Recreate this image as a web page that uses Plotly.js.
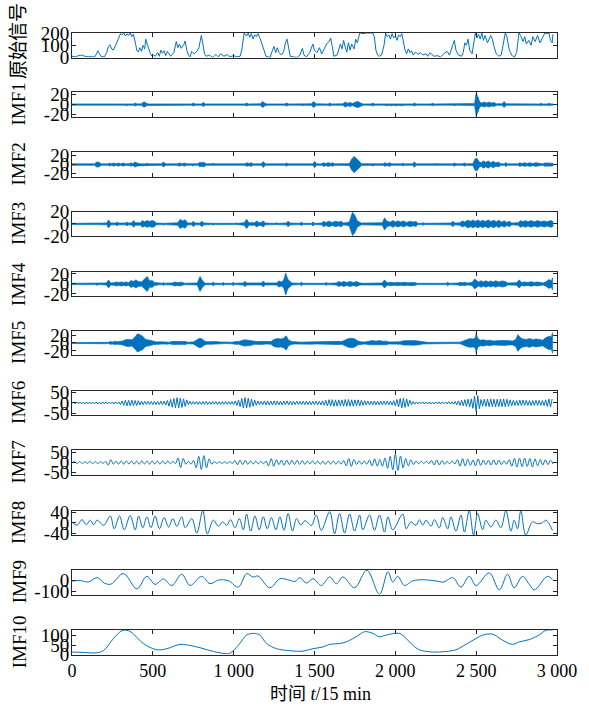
<!DOCTYPE html>
<html><head><meta charset="utf-8">
<script src="https://cdn.plot.ly/plotly-3.0.1.min.js"></script>
<style>html,body{margin:0;padding:0;background:#fff}#chart{width:589px;height:706px}</style>
</head><body><div id="chart"></div>
<script>
// ---------- DATA ----------
// original signal: [time, value]
const rawSignal = [[0,10],[20,5],[40,15],[60,20],[80,10],[100,5],[120,8],[140,3],[150,25],[160,55],[170,30],[180,8],[200,5],[215,40],[225,90],[235,105],[245,70],[255,60],[270,100],[285,150],[300,195],[310,185],[320,200],[330,175],[340,195],[350,180],[360,200],[370,170],[380,190],[395,100],[400,60],[410,45],[420,80],[430,50],[440,100],[450,70],[456,150],[465,110],[475,60],[485,30],[495,10],[505,20],[515,10],[530,40],[540,10],[550,60],[560,35],[570,55],[580,15],[590,50],[600,30],[610,10],[630,40],[645,130],[655,80],[665,110],[675,75],[690,100],[700,135],[710,60],[720,20],[730,5],[740,50],[755,30],[770,45],[785,80],[800,180],[810,90],[820,30],[830,10],[850,20],[870,0],[890,25],[905,5],[920,30],[940,10],[960,25],[975,5],[1000,15],[1020,5],[1040,10],[1050,60],[1065,200],[1080,175],[1090,200],[1100,165],[1110,195],[1120,150],[1130,185],[1140,170],[1150,195],[1165,150],[1180,90],[1190,40],[1200,10],[1215,5],[1225,0],[1240,60],[1250,90],[1260,40],[1270,80],[1280,40],[1295,20],[1310,50],[1320,120],[1330,150],[1340,60],[1350,10],[1370,5],[1390,0],[1410,20],[1425,75],[1435,20],[1450,5],[1470,40],[1480,70],[1490,110],[1500,60],[1515,40],[1530,80],[1545,30],[1560,70],[1575,110],[1590,130],[1600,160],[1610,90],[1620,10],[1640,20],[1650,60],[1660,110],[1670,70],[1680,140],[1690,85],[1700,45],[1710,120],[1720,60],[1730,110],[1745,70],[1755,150],[1765,120],[1780,200],[1800,195],[1820,200],[1840,200],[1860,200],[1870,170],[1880,60],[1890,20],[1900,10],[1915,20],[1930,100],[1940,200],[1950,170],[1960,185],[1970,150],[1980,195],[1990,160],[2000,175],[2010,140],[2020,185],[2030,170],[2040,195],[2050,110],[2060,60],[2070,30],[2080,70],[2090,40],[2100,55],[2110,20],[2125,45],[2140,25],[2155,40],[2170,20],[2190,30],[2200,10],[2215,40],[2225,25],[2240,10],[2260,15],[2280,5],[2300,30],[2320,50],[2335,20],[2350,80],[2365,140],[2375,60],[2390,20],[2410,10],[2420,40],[2430,120],[2440,100],[2450,150],[2460,60],[2475,30],[2485,100],[2495,200],[2505,160],[2515,190],[2525,150],[2535,200],[2545,140],[2555,180],[2570,120],[2590,180],[2600,150],[2610,90],[2625,30],[2640,10],[2655,20],[2670,150],[2680,200],[2690,170],[2705,60],[2720,20],[2735,0],[2750,40],[2765,200],[2775,180],[2790,130],[2800,170],[2810,110],[2825,140],[2840,100],[2850,170],[2865,130],[2880,180],[2895,120],[2910,160],[2925,200],[2940,195],[2950,200],[2960,140],[2970,120],[2975,190]];

// IMF1..IMF5: oscillation envelope (half-amplitude) [time, amplitude]
const imf1Env = [[0,1.2],[140,1.2],[155,2.5],[170,1.2],[255,1.2],[268,2.5],[280,1.2],[330,1.2],[340,2.5],[350,1.2],[380,1.2],[391,3],[402,1.2],[430,1.5],[440,4.5],[450,5],[462,2],[475,1.2],[545,1.2],[556,2.5],[567,1.2],[670,1.2],[679,2.5],[690,1.2],[700,1.2],[710,2.5],[720,1.2],[740,1.2],[751,3],[762,1.2],[800,1.2],[813,4],[826,1.2],[1005,1.2],[1018,2.5],[1030,1.2],[1070,1.2],[1080,3],[1090,1.2],[1165,1.5],[1180,6],[1195,2],[1210,1.2],[1315,1.2],[1327,3],[1340,1.2],[1415,1.2],[1425,2.5],[1435,1.2],[1480,1.5],[1495,6],[1510,1.5],[1585,1.2],[1594,3],[1605,1.2],[1675,1.5],[1690,5],[1705,2.5],[1720,4],[1735,2],[1755,5],[1770,6],[1785,3],[1800,1.2],[1850,1.2],[1861,3],[1872,1.2],[1935,1.2],[1945,2.5],[1960,1.5],[1975,2.5],[1990,1.5],[2005,2.5],[2020,1.5],[2040,2.5],[2055,1.2],[2108,1.2],[2118,3],[2128,1.2],[2220,1.2],[2231,2.5],[2242,1.2],[2355,1.2],[2365,2.5],[2375,1.2],[2417,1.2],[2427,2.5],[2437,1.2],[2490,2],[2500,22],[2510,16],[2522,5],[2535,3],[2550,5],[2565,3],[2580,5],[2595,3],[2610,4],[2625,1.5],[2660,1.5],[2673,6],[2686,1.5],[2805,1.2],[2817,2.5],[2828,1.2],[2890,1.2],[2900,2.5],[2910,1.2],[2940,1.2],[2951,2.5],[2962,1.2],[2975,1.5]];
const imf2Env = [[0,1.5],[140,1.5],[150,5],[165,5.5],[180,1.5],[225,1.5],[230,3.5],[240,1.5],[260,3.5],[270,1.5],[290,3.5],[300,1.5],[320,3.5],[330,1.5],[355,2],[365,4],[375,2],[390,5.5],[405,3],[420,1.5],[455,1.5],[463,3],[472,1.5],[555,1.5],[565,5.5],[580,1.5],[650,1.5],[665,3.5],[680,1.5],[695,3.5],[710,1.5],[740,1.5],[745,3],[755,1.5],[780,1.5],[790,5],[800,4],[815,5],[830,1.5],[865,1.5],[874,3],[883,1.5],[1010,1.5],[1018,3],[1027,1.5],[1070,1.5],[1082,4],[1095,2.5],[1108,4],[1120,1.5],[1170,1.5],[1183,6.5],[1196,1.5],[1256,1.5],[1265,3],[1274,1.5],[1318,1.5],[1327,3.5],[1336,1.5],[1490,1.5],[1501,7],[1512,1.5],[1545,1.5],[1555,4],[1570,2.5],[1585,4],[1600,2.5],[1612,4],[1625,1.5],[1715,2],[1730,12],[1745,18],[1760,14],[1775,8],[1790,2],[1850,1.5],[1861,3],[1872,1.5],[1925,1.5],[1935,4],[1950,2],[1965,4],[1978,1.5],[2038,1.5],[2046,3],[2055,1.5],[2108,1.5],[2118,6],[2128,1.5],[2245,1.5],[2252,2.5],[2260,1.5],[2355,1.5],[2365,3.5],[2375,1.5],[2418,1.5],[2427,3.5],[2436,1.5],[2480,2],[2492,12],[2505,14],[2518,6],[2530,4],[2545,8],[2560,5],[2575,8],[2590,4],[2605,7],[2620,4],[2640,5],[2652,1.5],[2675,1.5],[2684,4.5],[2693,1.5],[2760,1.5],[2768,4],[2785,2.5],[2800,4],[2815,2.5],[2830,4],[2850,2.5],[2870,4],[2890,3],[2910,1.5],[2925,3.5],[2945,3],[2960,3.5],[2975,3]];
const imf3Env = [[0,1],[145,1],[155,2],[165,1],[215,1.5],[226,6.5],[240,1.5],[270,1.5],[278,3],[288,1.5],[330,1.5],[340,3],[350,1.5],[372,2],[381,5.5],[392,2],[425,2],[435,5.5],[450,3.5],[465,5.5],[480,4],[495,5.5],[510,4.5],[520,1.5],[560,1],[566,2],[572,1],[655,2],[669,7.5],[685,5],[700,7],[715,1.5],[740,1.5],[751,4.5],[762,1.5],[792,1.5],[803,4.5],[814,1.5],[868,1],[874,2],[880,1],[1012,1],[1018,2],[1024,1],[1065,2],[1080,7.5],[1095,2],[1130,2],[1142,5],[1155,2.5],[1170,2.5],[1183,5],[1196,1.5],[1258,1],[1265,2],[1272,1],[1325,1.5],[1337,4.5],[1350,1.5],[1410,1],[1419,3],[1428,1],[1482,1],[1491,3.5],[1500,1],[1545,1.5],[1555,4.5],[1570,2.5],[1590,4.5],[1610,2.5],[1630,4.5],[1650,3],[1665,4.5],[1680,1.5],[1715,3],[1735,19],[1750,14],[1765,5],[1779,3],[1790,1.5],[1920,2],[1933,10],[1950,4],[1970,3],[1985,5.5],[2000,3],[2015,5],[2035,3],[2050,5],[2070,2.5],[2090,4.5],[2110,3],[2128,4],[2140,1],[2163,1],[2170,2.5],[2177,1],[2245,1],[2252,1.8],[2260,1],[2345,1.5],[2355,4.5],[2368,1.5],[2400,2],[2415,5],[2430,3],[2450,6.5],[2465,4],[2480,6.5],[2495,4],[2510,6.5],[2525,4],[2540,6],[2555,4],[2575,6.5],[2590,4],[2610,6],[2625,3.5],[2640,6],[2655,3],[2675,5],[2690,2.5],[2705,4.5],[2720,1.5],[2760,2],[2775,5.5],[2790,3.5],[2805,5.5],[2820,3.5],[2840,5.5],[2860,3.5],[2880,5.5],[2900,3.5],[2920,5],[2940,3.5],[2960,5.5],[2975,4]];
const imf4Env = [[0,1.3],[145,1.3],[155,2.5],[165,1.3],[212,2],[226,8],[240,2],[260,2.5],[275,4],[290,3],[305,4],[320,3],[335,4],[350,2.5],[365,7],[380,5],[395,8],[410,5],[430,4],[455,12],[465,15],[480,6],[495,7],[510,3],[540,1.5],[560,1.5],[566,3],[572,1.5],[620,2],[635,4],[650,3],[665,4],[680,3.5],[695,1.5],[775,2],[792,15],[810,5],[825,1.5],[865,1.5],[874,3.5],[883,1.5],[928,1.3],[936,3],[944,1.3],[990,1.3],[998,3.5],[1006,1.3],[1060,2],[1070,5.5],[1080,2],[1170,2],[1183,5.5],[1196,2],[1265,2],[1280,6],[1295,4],[1310,8],[1322,22],[1334,10],[1348,5],[1360,2],[1410,1.3],[1419,3.5],[1428,1.3],[1565,1.3],[1573,3],[1581,1.3],[1635,2],[1650,5],[1665,3],[1680,5],[1700,3],[1720,5],[1740,3],[1760,5],[1780,2],[1800,1.3],[1918,2],[1933,8],[1950,2.5],[1975,3.5],[1995,2.5],[2015,3.5],[2035,2.5],[2055,3.5],[2075,2.5],[2100,3.5],[2120,3],[2135,1.3],[2214,1.3],[2221,2.5],[2228,1.3],[2315,1.3],[2324,3.5],[2333,1.3],[2390,2],[2400,3.5],[2415,2.5],[2430,3.5],[2445,2],[2475,3],[2490,10],[2500,7],[2515,4],[2530,6.5],[2545,4],[2560,6.5],[2575,4],[2590,6],[2605,4],[2620,6.5],[2640,4],[2660,6],[2680,5],[2695,2],[2750,2.5],[2766,8],[2782,3],[2800,4],[2820,3],[2840,4.5],[2860,3],[2880,4],[2900,3],[2915,2],[2935,5],[2950,9],[2965,6],[2972,12]];
const imf5Env = [[0,1.2],[120,1.2],[150,2],[200,2],[225,1.5],[237,3.5],[250,2.5],[265,4],[280,3],[300,4],[315,5],[330,8],[350,9],[370,8],[390,15],[405,23],[420,21],[440,16],[455,9],[480,7],[505,4],[525,2.5],[545,3],[565,2.5],[590,3],[605,2],[620,4],[640,3.5],[660,4],[680,3.5],[700,4],[715,2],[750,2.5],[770,8],[790,12],[805,10],[820,5],[835,3],[855,3.5],[875,3],[895,3.5],[915,2.5],[950,1.5],[990,2],[1010,3.5],[1030,3.5],[1050,6],[1070,8],[1090,7],[1110,6],[1125,3.5],[1145,3.5],[1165,4],[1185,3.5],[1205,2.5],[1230,3.5],[1250,9],[1270,11],[1290,10],[1310,12],[1325,18],[1340,7],[1360,3.5],[1380,2.5],[1400,2.5],[1420,2],[1450,2.5],[1480,3],[1510,2.5],[1540,3],[1570,3.5],[1595,4],[1620,3.5],[1645,4],[1670,3.5],[1690,8],[1710,11],[1730,12],[1750,10],[1768,5],[1785,3],[1810,2.5],[1840,4.5],[1860,6],[1880,4.5],[1900,6],[1920,4.5],[1943,4.5],[1960,2.5],[1985,3],[2010,2.5],[2030,3],[2050,5.5],[2070,6],[2090,5.5],[2110,6],[2130,5.5],[2150,4.5],[2170,2.5],[2200,1.5],[2250,1.5],[2300,1.5],[2350,1.5],[2400,2],[2420,5],[2440,9],[2460,11],[2480,10],[2495,13],[2500,25],[2510,11],[2525,7],[2545,8],[2565,6],[2585,7],[2605,5],[2625,6],[2650,6],[2675,6.5],[2700,5],[2725,5],[2745,9],[2758,21],[2775,13],[2790,10],[2810,9],[2830,11],[2850,8],[2870,10],[2890,9],[2910,7],[2930,13],[2950,17],[2965,15],[2972,26]];

// IMF6: successive extrema, one every 10 time steps
const imf6 = [0,4,-5,5,-4,5,-5,4,-5,5,-4,5,-5,4,-4,5,-5,4,-5,5,-4,5,-5,4,-4,5,-5,5,-4,5,
 -8,10,-12,13,-14,13,-14,14,-13,12,-13,11,-10,9,-8,
 8,-7,8,-8,7,-8,8,-8,7,-8,9,-8,9,-10,12,
 -16,18,-21,22,-24,26,-25,24,-22,20,-17,14,
 -9,8,-7,7,-6,7,-7,6,-7,7,-6,7,-7,6,-7,7,-6,7,-7,6,-7,7,-6,7,-7,6,-7,7,-8,10,-12,
 14,-18,22,-25,26,-25,23,-21,19,-16,14,-12,10,-9,8,
 -9,10,-9,10,-10,9,-10,10,-9,10,-9,9,-10,9,-9,10,-9,8,-9,9,-8,9,-8,8,-9,8,-8,9,-8,8,-9,8,-8,9,-9,8,-9,10,-11,
 13,-15,16,-15,16,-16,15,-16,15,-14,15,-16,17,-16,17,-16,15,-16,15,-14,15,-14,13,-12,
 11,-10,9,-10,9,-9,10,-9,9,-10,9,-9,10,-9,10,-9,9,-10,11,
 -14,17,-20,22,-24,23,-22,20,-17,13,-9,
 7,-6,5,-5,5,-4,5,-5,4,-5,5,-5,4,-5,5,-4,5,-5,5,-4,5,-5,6,-5,6,-6,7,
 -9,10,-12,13,-14,16,-17,18,-19,20,-26,
 34,-42,36,-28,17,
 -16,18,-17,19,-18,19,-18,18,-19,18,-18,19,-18,19,-19,18,-17,15,
 -14,13,-12,12,-13,14,-13,14,-12,13,-12,12,-13,12,-12,13,-12,13,-12,12,-13,15,
 -17,19,-20,20];
const imf6Step = 10;

// IMF7: successive extrema, one every 16 time steps
const imf7 = [0,4,-4,5,-5,4,-4,5,-5,4,-5,5,-4,6,-13,14,-8,6,
 -8,7,-8,8,-7,8,-8,7,-8,8,-7,8,-8,8,-7,7,-8,8,-7,8,-6,6,-5,
 22,-24,20,-8,6,-8,10,-26,30,-34,34,-26,18,-8,5,-4,4,-4,4,-4,5,-5,
 10,-11,12,-10,11,-9,8,-7,7,-6,6,-6,7,-16,19,-18,14,-10,12,
 -13,12,-10,11,-10,11,-9,10,-9,8,-7,8,-8,7,-8,7,-8,8,-7,8,-8,7,-8,
 10,-16,20,-19,15,-10,8,-8,7,-8,12,-16,18,-17,15,-18,
 22,-28,30,-36,40,-38,32,-26,20,-16,14,-10,7,-6,6,-5,6,-5,
 10,-12,13,-12,10,-8,6,-6,7,-7,14,-18,19,-17,16,-14,12,
 -16,18,-14,12,-10,11,-12,13,-11,12,-10,9,-8,
 14,-18,20,-22,21,-20,22,-19,20,-22,18,-16,15,-12,14,-10,12,-8];
const imf7Step = 16;

// IMF8, IMF9, IMF10: [time, value] at extrema / turning points
const imf8 = [[0,4],[31,-9],[62,13],[89,-7],[113,11],[134,-7],[155,11],[196,-9],[237,27],[261,-23],[294,27],[323,-27],[360,29],[391,-27],[412,27],[438,-19],[463,24],[488,-19],[514,27],[541,-23],[570,21],[597,-16],[624,17],[648,-13],[679,24],[700,-19],[741,17],[772,-40],[809,48],[837,-43],[874,11],[905,-13],[932,4],[957,-9],[981,13],[1008,-19],[1035,17],[1060,-27],[1080,35],[1105,-32],[1132,27],[1158,-27],[1183,24],[1208,-23],[1234,21],[1261,-27],[1286,24],[1311,-29],[1337,37],[1364,-32],[1389,17],[1415,-8],[1442,9],[1480,-10],[1511,31],[1542,-29],[1594,44],[1624,-43],[1655,37],[1686,-40],[1717,35],[1748,-32],[1779,31],[1799,-27],[1840,31],[1871,-29],[1902,31],[1933,-36],[1954,24],[1984,-27],[2046,35],[2067,-23],[2097,4],[2128,-9],[2149,13],[2170,-9],[2190,11],[2221,-13],[2242,13],[2272,-19],[2293,21],[2324,-23],[2344,24],[2375,-32],[2406,31],[2427,-36],[2457,48],[2484,-48],[2509,37],[2540,-27],[2560,11],[2591,-16],[2622,11],[2653,-19],[2684,48],[2715,-32],[2735,11],[2756,-23],[2776,48],[2807,-48],[2848,4],[2879,-3],[2910,1],[2931,11],[2951,-3],[2972,-29]];
const imf9 = [[0,-6],[50,-2],[103,-15],[155,25],[200,-25],[240,-35],[319,62],[401,-78],[463,37],[514,-37],[566,12],[617,-47],[679,56],[730,-47],[802,37],[854,-31],[900,0],[926,6],[970,-5],[1029,-62],[1080,62],[1120,30],[1150,40],[1224,-68],[1286,15],[1348,0],[1380,-10],[1408,25],[1450,-25],[1491,15],[1542,-47],[1594,31],[1635,-31],[1676,31],[1748,-68],[1824,93],[1902,-128],[1954,78],[1984,-15],[2015,37],[2056,-47],[2108,-5],[2170,6],[2252,-6],[2300,-15],[2355,25],[2406,-62],[2457,37],[2499,-47],[2581,68],[2643,-87],[2694,56],[2735,-68],[2787,37],[2830,-40],[2860,-87],[2941,37],[2972,6]];
const imf10 = [[0,13],[72,11],[155,9],[196,22],[257,85],[309,126],[350,126],[381,108],[442,58],[525,25],[587,31],[669,54],[710,51],[792,36],[874,16],[957,4],[977,7],[1029,49],[1080,103],[1121,112],[1162,103],[1204,58],[1265,31],[1348,20],[1429,18],[1491,31],[1552,40],[1594,54],[1655,58],[1696,67],[1758,94],[1810,121],[1861,112],[1902,94],[1943,103],[2025,112],[2067,85],[2108,49],[2149,25],[2231,13],[2313,16],[2375,25],[2437,54],[2499,85],[2540,103],[2601,108],[2663,76],[2725,54],[2766,67],[2828,79],[2889,103],[2930,128],[2972,130]];

// axis ticks
const xTickVals = [0,500,1000,1500,2000,2500,3000];
const xTickText = ['0','500','1 000','1 500','2 000','2 500','3 000'];
const panelNames = ['原始信号','IMF1','IMF2','IMF3','IMF4','IMF5','IMF6','IMF7','IMF8','IMF9','IMF10'];
const yRanges = [[0,200],[-24.5,24.5],[-27,27],[-20,20],[-24.5,24.5],[-31,31],[-60,60],[-60,60],[-48,48],[-130,95],[0,130]];
const yTickVals = [[0,100,200],[-20,0,20],[-20,0,20],[-20,0,20],[-20,0,20],[-20,0,20],[-50,0,50],[-50,0,50],[-40,0,40],[-100,0],[0,50,100]];
const yTickText = [['0','100','200'],['-20','0','20'],['-20','0','20'],['-20','0','20'],['-20','0','20'],['-20','0','20'],['-50','0','50'],['-50','0','50'],['-40','0','40'],['-100','0'],['0','50','100']];

// ---------- DRAWING ----------
const BLUE = '#0072BD', AX = '#262626';
const FONT = '"Liberation Serif","Times New Roman","Noto Sans CJK SC",serif';
const W = 589, H = 706, ML = 72, MR = 32;
const panelTop = [33,92.3,152.3,211.7,271.7,330.7,390.7,450.3,510.7,570,630];
const panelH = 24.5;
const ax = k => (k===1 ? '' : String(k));

function lineTrace(xs, ys, k, spline){
  return {x: xs, y: ys, xaxis:'x'+ax(k), yaxis:'y'+ax(k),
    type:'scatter', mode:'lines', line:{color:BLUE, width:1, shape: spline?'spline':'linear'}, hoverinfo:'skip'};
}
function bandTrace(env, k){
  const t = env.map(p=>p[0]), a = env.map(p=>p[1]);
  return {x: t.concat(t.slice().reverse()), y: a.concat(a.map(v=>-v).reverse()),
    xaxis:'x'+ax(k), yaxis:'y'+ax(k), type:'scatter', mode:'lines', fill:'toself',
    fillcolor: BLUE, line:{color:BLUE, width:0.7}, hoverinfo:'skip'};
}

const traces = [];
traces.push(lineTrace(rawSignal.map(p=>p[0]), rawSignal.map(p=>p[1]), 1, false));
[imf1Env, imf2Env, imf3Env, imf4Env, imf5Env].forEach((e,i)=>traces.push(bandTrace(e, i+2)));
traces.push(lineTrace(imf6.map((v,i)=>i*imf6Step), imf6, 7, false));
traces.push(lineTrace(imf7.map((v,i)=>i*imf7Step), imf7, 8, true));
traces.push(lineTrace(imf8.map(p=>p[0]), imf8.map(p=>p[1]), 9, true));
traces.push(lineTrace(imf9.map(p=>p[0]), imf9.map(p=>p[1]), 10, true));
traces.push(lineTrace(imf10.map(p=>p[0]), imf10.map(p=>p[1]), 11, true));

const layout = {width:W, height:H, margin:{l:ML, r:MR, t:0, b:0}, showlegend:false,
  paper_bgcolor:'#fff', plot_bgcolor:'#fff', font:{family:FONT, color:'#000', size:18}, annotations:[]};

const pw = W - ML - MR;
for (let k=1; k<=11; k++){
  const top = panelTop[k-1];
  const last = k===11;
  layout['xaxis'+ax(k)] = {domain:[0,1], range:[0,3000], anchor:'y'+ax(k),
    tickvals: xTickVals, ticktext: xTickText, showticklabels: last,
    ticks:'inside', ticklen:4, tickwidth:1, tickcolor:AX, mirror:'ticks', showline:true, linecolor:AX, linewidth:1,
    showgrid:false, zeroline:false, fixedrange:true, tickfont:{family:FONT, size:18, color:'#000'}};
  layout['yaxis'+ax(k)] = {domain:[1-(top+panelH)/H, 1-top/H], range: yRanges[k-1], anchor:'x'+ax(k),
    tickvals: yTickVals[k-1], ticktext: yTickText[k-1], ticks:'inside', ticklen:4, tickwidth:1, tickcolor:AX,
    mirror:'ticks', showline:true, linecolor:AX, linewidth:1, showgrid:false, zeroline:false, fixedrange:true,
    ticklabelstandoff:-2, tickfont:{family:FONT, size:19, color:'#000'}};
  layout.annotations.push({text: panelNames[k-1], xref:'paper', yref:'paper', x:(19-ML)/pw,
    y: 1-(k===1 ? 41 : top+panelH/2)/H, xanchor:'center', yanchor:'middle', textangle:-90, showarrow:false,
    font:{family:FONT, size:19, color:'#000'}});
}
layout.annotations.push({text:'时间 <i>t</i>/15 min', xref:'paper', yref:'paper', x:(320-ML)/pw, y:1-694/H,
  xanchor:'center', yanchor:'middle', showarrow:false, font:{family:FONT, size:18, color:'#000'}});

Plotly.newPlot('chart', traces, layout, {staticPlot:true, displayModeBar:false});
</script></body></html>
